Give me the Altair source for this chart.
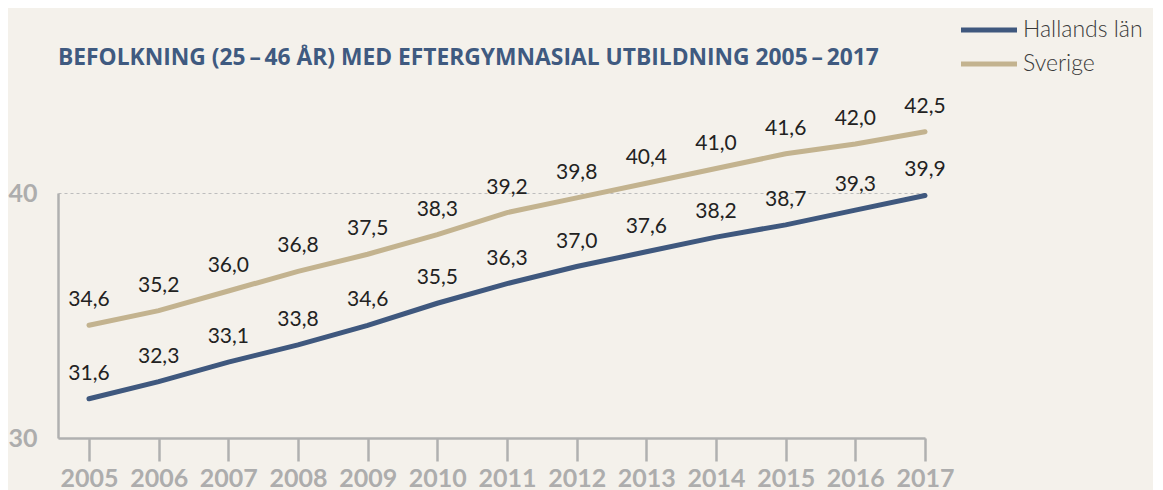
import altair as alt
import pandas as pd

years = list(range(2005, 2018))
hallands = [31.6, 32.3, 33.1, 33.8, 34.6, 35.5, 36.3, 37.0, 37.6, 38.2, 38.7, 39.3, 39.9]
sverige = [34.6, 35.2, 36.0, 36.8, 37.5, 38.3, 39.2, 39.8, 40.4, 41.0, 41.6, 42.0, 42.5]
series = ["Hallands län", "Sverige"]
colors = ["#3f587e", "#c3b38f"]
title_text = "BEFOLKNING (25\u2009–\u200946 ÅR) MED EFTERGYMNASIAL UTBILDNING 2005\u2009–\u20092017"

rows = []
for name, vals in zip(series, [hallands, sverige]):
    for y, v in zip(years, vals):
        rows.append({"year": y, "value": v, "serie": name,
                     "label": f"{v:.1f}".replace(".", ",")})
df = pd.DataFrame(rows)

x = alt.X("year:Q",
          scale=alt.Scale(domain=[2004.555, 2017], nice=False, zero=False),
          axis=alt.Axis(values=years, format="d", title=None, grid=False,
                        tickSize=23, tickWidth=2.5, tickColor="#b0b0b0",
                        domainColor="#b0b0b0", domainWidth=2.5,
                        labelFont="Lato", labelFontWeight="bold", labelFontSize=25,
                        labelColor="#adadad", labelPadding=5, labelFlush=False))
y = alt.Y("value:Q",
          scale=alt.Scale(domain=[30, 40], nice=False, zero=False),
          axis=alt.Axis(values=[30, 40], title=None, ticks=False,
                        grid=True, gridColor="#bdbdbd", gridDash=[3, 3], gridWidth=1,
                        domainColor="#b0b0b0", domainWidth=2.5,
                        labelFont="Lato", labelFontWeight="bold", labelFontSize=25,
                        labelColor="#adadad", labelPadding=21))

color = alt.Color("serie:N",
                  scale=alt.Scale(domain=series, range=colors),
                  legend=alt.Legend(title=None, orient="none", legendX=911, legendY=-183,
                                    symbolType="M-1.6,0H1.6", symbolSize=1225,
                                    symbolStrokeWidth=5, labelFont="Lato",
                                    labelFontWeight=300,
                                    labelFontSize=23, labelColor="#3a3a3a",
                                    rowPadding=2, labelOffset=14))

base = alt.Chart(df)
lines = base.mark_line(strokeWidth=5, strokeCap="round", clip=False).encode(
    x=x, y=y, color=color)
texts = base.mark_text(dy=-19, baseline="alphabetic", fontSize=21, font="Lato",
                       color="#222222", clip=False).encode(
    x="year:Q", y="value:Q", text="label:N")

chart = alt.layer(lines, texts).properties(
    width=867, height=245,
    title=alt.TitleParams(title_text,
                          anchor="start", frame="group", font="Open Sans", fontSize=22.8,
                          fontWeight="bold", color="#3f5a80", offset=0, dy=78,
                          baseline="alphabetic"),
    padding={"left": 50, "top": 185, "right": 228, "bottom": 52},
    autosize=alt.AutoSizeParams(type="none"),
    background="#f4f1eb",
).configure_view(stroke=None)

chart.save("out.html", embed_options={"renderer": "svg", "actions": False})
